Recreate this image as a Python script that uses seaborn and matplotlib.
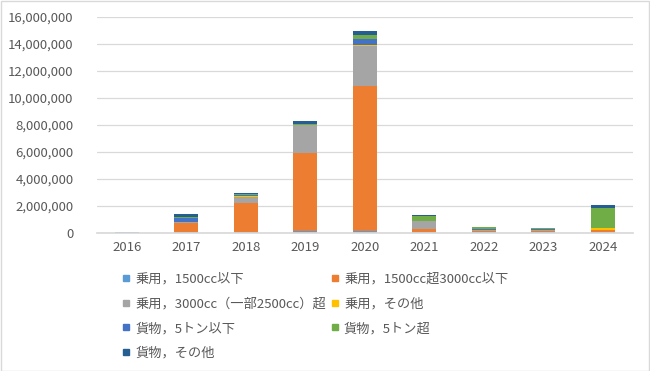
import numpy as np
import pandas as pd
import matplotlib
matplotlib.use('Agg')
import matplotlib.pyplot as plt
import seaborn as sns
from matplotlib.lines import Line2D
from matplotlib.patches import Rectangle
from matplotlib.ticker import FuncFormatter

# --- data (in vehicles) ---
years = ['2016', '2017', '2018', '2019', '2020', '2021', '2022', '2023', '2024']

series_names = [
    '乗用，1500cc以下',
    '乗用，1500cc超3000cc以下',
    '乗用，3000cc（一部2500cc）超',
    '乗用，その他',
    '貨物，5トン以下',
    '貨物，5トン超',
    '貨物，その他',
]

p_small = [1000, 10000, 50000, 80000, 120000, 20000, 20000, 10000, 20000]
p_mid = [2000, 720000, 2100000, 5800000, 10760000, 250000, 100000, 120000, 130000]
p_large = [1000, 50000, 500000, 2050000, 2960000, 550000, 90000, 20000, 10000]
p_other = [0, 10000, 20000, 20000, 30000, 10000, 10000, 10000, 150000]
t_small = [500, 300000, 120000, 30000, 470000, 50000, 50000, 130000, 20000]
t_large = [500, 60000, 50000, 80000, 300000, 330000, 140000, 10000, 1460000]
t_other = [500, 220000, 120000, 170000, 250000, 50000, 20000, 60000, 270000]

series_values = [p_small, p_mid, p_large, p_other, t_small, t_large, t_other]
colors = ['#5B9BD5', '#ED7D31', '#A5A5A5', '#FFC000', '#4472C4', '#70AD47', '#255E91']

# --- plotting ---
sns.set_theme(style='white')
plt.rcParams['font.family'] = ['Noto Sans CJK JP', 'DejaVu Sans']

fig = plt.figure(figsize=(6.5, 3.71), dpi=100)
ax = fig.add_axes([97 / 650, 1 - 232.5 / 371, (632.5 - 97) / 650, 216 / 371])

# stacked bars: draw cumulative totals from the top series down, each one over the last
cum = np.cumsum(np.array(series_values), axis=0)
for i in range(len(series_names) - 1, -1, -1):
    df = pd.DataFrame({'year': years, 'value': cum[i]})
    sns.barplot(data=df, x='year', y='value', order=years,
                color=colors[i], width=0.4, linewidth=0,
                saturation=1, errorbar=None, ax=ax)

ax.set_ylim(0, 16000000)
ax.set_yticks(np.arange(0, 16000001, 2000000))
ax.yaxis.set_major_formatter(FuncFormatter(lambda v, p: f'{int(v):,}'))
ax.set_xlim(-0.5, len(years) - 0.5)
ax.set_xlabel('')
ax.set_ylabel('')
ax.grid(axis='y', color='#D9D9D9', linewidth=0.9)
ax.set_axisbelow(True)
for s in ['left', 'right', 'top']:
    ax.spines[s].set_visible(False)
ax.spines['bottom'].set_color('#D9D9D9')
ax.tick_params(axis='both', length=0, labelsize=9.5, colors='#595959')
ax.tick_params(axis='y', pad=17)
ax.tick_params(axis='x', pad=6)

# legend, filled row-wise like the original
handles = [Line2D([0], [0], marker='s', linestyle='', markersize=5,
                  markerfacecolor=c, markeredgecolor=c) for c in colors]
order = [0, 2, 4, 6, 1, 3, 5]
leg = fig.legend([handles[i] for i in order], [series_names[i] for i in order],
                 ncol=2, loc='upper left', bbox_to_anchor=(117 / 650, 1 - 267 / 371),
                 frameon=False, fontsize=9.5, handlelength=0.6, handletextpad=0.4,
                 columnspacing=0.35, labelspacing=0.9, borderaxespad=0)
for t in leg.get_texts():
    t.set_color('#595959')

# outer chart border
fig.patches.append(Rectangle((0.001, 0.001), 0.997, 0.997, transform=fig.transFigure,
                             fill=False, edgecolor='#D9D9D9', linewidth=1))

fig.savefig('out.png', dpi=100)
